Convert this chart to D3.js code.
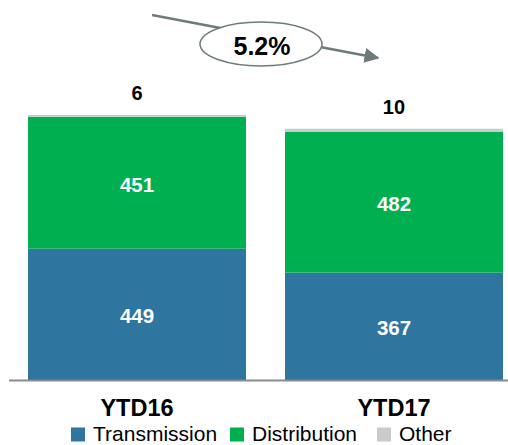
<!DOCTYPE html>
<html>
<head>
<meta charset="utf-8">
<script src="https://cdn.jsdelivr.net/npm/d3@7"></script>
<style>
  body { margin: 0; background: #fff; }
  text { font-family: "Liberation Sans", Arial, sans-serif; }
</style>
</head>
<body>
<script>
// chart data
var categories = ["YTD16", "YTD17"];
var transmission = [449, 367];
var distribution = [451, 482];
var other = [6, 10];
var seriesNames = ["Transmission", "Distribution", "Other"];
var growthLabel = "5.2%";

var w = 508, h = 445;
var colors = {"Transmission": "#2e75a0", "Distribution": "#00b050", "Other": "#c9cbcb"};

var svg = d3.select("body").append("svg")
  .attr("width", w).attr("height", h);

var rows = categories.map(function(c, i) {
  return {cat: c, Transmission: transmission[i], Distribution: distribution[i], Other: other[i]};
});
var stack = d3.stack().keys(seriesNames)(rows);

var x = d3.scaleBand().domain(categories).range([9, 522]).paddingInner(0.1518).paddingOuter(0.074);
var y = d3.scaleLinear().domain([0, 1000]).range([380, 87.5]);

// bars
svg.append("g").selectAll("g")
  .data(stack).enter().append("g")
  .attr("fill", function(d) { return colors[d.key]; })
  .selectAll("rect")
  .data(function(d) { return d; }).enter().append("rect")
  .attr("x", function(d) { return x(d.data.cat); })
  .attr("width", x.bandwidth())
  .attr("y", function(d) { return y(d[1]); })
  .attr("height", function(d) { return y(d[0]) - y(d[1]); });

// white value labels inside
stack.slice(0, 2).forEach(function(s) {
  svg.append("g").selectAll("text")
    .data(s).enter().append("text")
    .attr("x", function(d) { return x(d.data.cat) + x.bandwidth() / 2; })
    .attr("y", function(d) { return (y(d[0]) + y(d[1])) / 2 + 9; })
    .attr("text-anchor", "middle")
    .attr("fill", "#fff")
    .attr("font-weight", "bold")
    .attr("font-size", "20.5px")
    .text(function(d) { return d[1] - d[0]; });
});

// other labels above
svg.append("g").selectAll("text")
  .data(stack[2]).enter().append("text")
  .attr("x", function(d) { return x(d.data.cat) + x.bandwidth() / 2; })
  .attr("y", function(d) { return y(d[1]) - 15; })
  .attr("text-anchor", "middle")
  .attr("fill", "#000")
  .attr("font-weight", "bold")
  .attr("font-size", "20px")
  .text(function(d) { return d[1] - d[0]; });

// baseline
svg.append("line")
  .attr("x1", 9).attr("x2", w)
  .attr("y1", y(0) + 0.5).attr("y2", y(0) + 0.5)
  .attr("stroke", "#8c8c8c").attr("stroke-width", 2);

// category axis
var xAxis = svg.append("g")
  .attr("transform", "translate(0," + y(0) + ")")
  .call(d3.axisBottom(x).tickSize(0));
xAxis.select(".domain").remove();
xAxis.selectAll("text")
  .attr("y", 36).attr("dy", null)
  .attr("font-family", "Liberation Sans, Arial, sans-serif")
  .attr("font-size", "23.5px")
  .attr("font-weight", "bold")
  .attr("fill", "#000");

// legend
var legendX = [71, 230, 377];
var leg = svg.append("g").selectAll("g")
  .data(seriesNames).enter().append("g")
  .attr("transform", function(d, i) { return "translate(" + legendX[i] + ",427.5)"; });
leg.append("rect").attr("width", 14).attr("height", 14)
  .attr("fill", function(d) { return colors[d]; });
leg.append("text").attr("x", 22).attr("y", 13.5)
  .attr("font-size", "21px").attr("fill", "#000")
  .text(function(d) { return d; });

// growth arrow
var arrowCol = "#6d7b7a";
svg.append("defs").append("marker")
  .attr("id", "ah").attr("viewBox", "0 0 10 10")
  .attr("refX", 9).attr("refY", 5)
  .attr("markerWidth", 6).attr("markerHeight", 6)
  .attr("markerUnits", "strokeWidth")
  .attr("orient", "auto")
  .append("path").attr("d", "M0,0 L10,5 L0,10 z").attr("fill", arrowCol);
svg.append("line")
  .attr("x1", 152).attr("y1", 15).attr("x2", 378).attr("y2", 58)
  .attr("stroke", arrowCol).attr("stroke-width", 2.5)
  .attr("marker-end", "url(#ah)");
svg.append("ellipse")
  .attr("cx", 261).attr("cy", 44).attr("rx", 61).attr("ry", 22)
  .attr("fill", "#fff").attr("stroke", arrowCol).attr("stroke-width", 1.5);
svg.append("text")
  .attr("x", 262).attr("y", 55)
  .attr("text-anchor", "middle")
  .attr("font-size", "25px").attr("font-weight", "bold")
  .text(growthLabel);
</script>
</body>
</html>
